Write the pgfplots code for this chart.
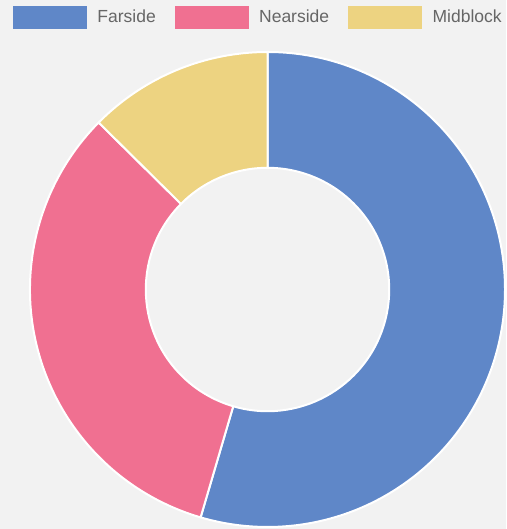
\documentclass[border=0pt]{standalone}
\usepackage{pgfplots}
\pgfplotsset{compat=1.18}
\usepackage{pgfplotstable}
\usepackage{fontspec}
\setmainfont{Liberation Sans}
\definecolor{bg}{HTML}{F2F2F2}
\definecolor{slice0}{HTML}{5F87C8}
\definecolor{slice1}{HTML}{F07091}
\definecolor{slice2}{HTML}{EDD381}
\definecolor{legtext}{HTML}{666666}

\pgfplotstableread{
label value
Farside 78
Nearside 47
Midblock 18
}\slices

\begin{document}
\begin{tikzpicture}
\fill[bg] (0,0) rectangle (506pt,529pt);
\useasboundingbox (0,0) rectangle (506pt,529pt);
\begin{axis}[
  hide axis, scale only axis, clip=false,
  width=475pt, height=475pt,
  xmin=-1, xmax=1, ymin=-1, ymax=1,
  at={(267.5pt,239.5pt)}, anchor=center,
  legend columns=3,
  legend style={draw=none, fill=none, inner sep=0pt, outer sep=0pt,
    at={(-0.0358,1.0968)}, anchor=north west,
    nodes={inner sep=0pt, outer sep=0pt, text=legtext, font=\fontsize{17.5pt}{18pt}\selectfont},
    /tikz/every odd column/.append style={column sep=11pt},
    /tikz/every even column/.append style={column sep=19pt}},
]
\pgfmathsetmacro{\total}{0}
\pgfplotsinvokeforeach{0,1,2}{
  \pgfplotstablegetelem{#1}{value}\of\slices
  \pgfmathsetmacro{\total}{\total+\pgfplotsretval}
}
\def\rout{1}
\def\rin{0.5124}
\pgfmathsetmacro{\cum}{0}
\pgfplotsinvokeforeach{0,1,2}{
  \pgfplotstablegetelem{#1}{value}\of\slices
  \pgfmathsetmacro{\fa}{\cum/\total}
  \pgfmathsetmacro{\fb}{(\cum+\pgfplotsretval)/\total}
  \pgfmathsetmacro{\a}{90-360*\fa}
  \pgfmathsetmacro{\b}{90-360*\fb}
  \pgfmathsetmacro{\cum}{\cum+\pgfplotsretval}
  \pgfmathsetmacro{\xa}{\rout*cos(\a)}
  \pgfmathsetmacro{\ya}{\rout*sin(\a)}
  \pgfmathsetmacro{\xb}{\rin*cos(\b)}
  \pgfmathsetmacro{\yb}{\rin*sin(\b)}
  \edef\temp{\noexpand\filldraw[fill=slice#1, draw=white, line width=2pt, line join=round]
    (axis cs:\xa,\ya) arc[start angle=\a, end angle=\b, radius=\rout]
    -- (axis cs:\xb,\yb) arc[start angle=\b, end angle=\a, radius=\rin] -- cycle;}
  \temp
}
\addlegendimage{legend image code/.code={\fill[slice0] (0pt,-11pt) rectangle (73pt,11pt);}}
\addlegendentry{Farside}
\addlegendimage{legend image code/.code={\fill[slice1] (0pt,-11pt) rectangle (73pt,11pt);}}
\addlegendentry{Nearside}
\addlegendimage{legend image code/.code={\fill[slice2] (0pt,-11pt) rectangle (73pt,11pt);}}
\addlegendentry{Midblock}
\end{axis}
\end{tikzpicture}
\end{document}
